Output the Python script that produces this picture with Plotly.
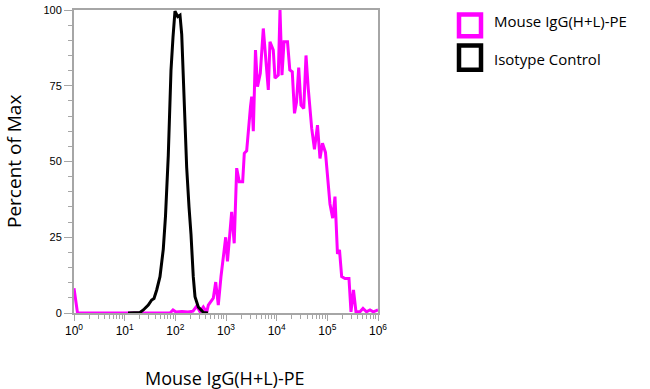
import plotly.graph_objects as go

# ---- data (x as log10 of fluorescence, y = percent of max)
black_log_x = [1.066, 1.303, 1.368, 1.466, 1.533, 1.579, 1.632, 1.697, 1.762, 1.806,
               1.861, 1.914, 1.954, 1.993, 2.047, 2.092, 2.126, 2.171, 2.224, 2.270,
               2.309, 2.354, 2.388, 2.453, 2.552, 2.645]
black_y = [0, 0.2, 1, 2.6, 4.3, 4.8, 7.6, 12, 21, 32,
           52, 80, 91, 99.6, 97.8, 98.3, 92, 72, 48, 35,
           26, 12, 5.4, 2, 0.2, 0]

magenta_log_x = [0.000, 0.069, 1.895, 1.954, 2.013, 2.131, 2.250, 2.349, 2.422, 2.487,
                 2.552, 2.619, 2.651, 2.749, 2.797, 2.848, 2.901, 2.970, 2.994, 3.029,
                 3.112, 3.162, 3.211, 3.262, 3.329, 3.361, 3.408, 3.483, 3.507, 3.539,
                 3.582, 3.622, 3.677, 3.736, 3.835, 3.868, 3.933, 3.967, 4.032, 4.066,
                 4.105, 4.145, 4.214, 4.259, 4.308, 4.352, 4.391, 4.435, 4.480, 4.535,
                 4.579, 4.624, 4.691, 4.746, 4.806, 4.855, 4.904, 4.963, 5.013, 5.052,
                 5.106, 5.151, 5.200, 5.240, 5.283, 5.348, 5.427, 5.467, 5.516, 5.565,
                 5.644, 5.704, 5.773, 5.842, 5.907, 5.974, 6.000]
magenta_y = [8.2, 0, 0, 1, 0.3, 0.5, 0.3, 0.6, 2.3, 0.4,
             2, 0.2, 2.6, 4.9, 10.2, 2.6, 12, 22, 25, 17,
             33.4, 23, 47.8, 43.3, 43.3, 52.7, 53.5, 68, 71.4, 60,
             86.8, 74.7, 79.1, 93.9, 73.6, 89.5, 86.8, 77.5, 78.5, 100,
             78.5, 89.5, 89.5, 80.2, 79.6, 65.9, 69.5, 81, 68.6, 67.5,
             85, 74, 61, 54, 62, 51, 56, 53, 44, 36,
             31.3, 38.4, 19.5, 20.8, 12, 11.4, 11.4, 0.4, 7.6, 0.4,
             0.4, 1.5, 0.4, 1, 0.4, 1, 1]

series_names = ["Mouse IgG(H+L)-PE", "Isotype Control"]
series_colors = ["#ff00ff", "#000000"]
x_title = "Mouse IgG(H+L)-PE"
y_title = "Percent of Max"
y_ticks = [0, 25, 50, 75, 100]
x_tick_exps = [0, 1, 2, 3, 4, 5, 6]

AX = "#a6a6a6"

fig = go.Figure()
fig.add_trace(go.Scatter(x=[10 ** v for v in magenta_log_x], y=magenta_y, mode="lines",
                         line=dict(color=series_colors[0], width=3), name=series_names[0],
                         showlegend=False))
fig.add_trace(go.Scatter(x=[10 ** v for v in black_log_x], y=black_y, mode="lines",
                         line=dict(color=series_colors[1], width=3), name=series_names[1],
                         showlegend=False))

fig.update_xaxes(type="log", range=[0, 6],
                 tickvals=[10 ** e for e in x_tick_exps],
                 ticktext=["10<sup>%d</sup>" % e for e in x_tick_exps],
                 showgrid=False, zeroline=False, showline=True, linecolor=AX, linewidth=2,
                 mirror=True, ticks="outside", ticklen=6, tickcolor=AX, tickwidth=1,
                 tickfont=dict(family="Liberation Sans, Arial", size=12, color="#000"),
                 minor=dict(ticks="outside", ticklen=4, tickcolor=AX, tickwidth=1,
                            dtick="D1", showgrid=False), automargin=False)
fig.update_yaxes(range=[0, 100], tickvals=y_ticks,
                 showgrid=False, zeroline=False, showline=True, linecolor=AX, linewidth=2,
                 mirror=True, ticks="outside", ticklen=8, tickcolor=AX, tickwidth=1,
                 tickfont=dict(family="Liberation Sans, Arial", size=11, color="#000"),
                 minor=dict(ticks="outside", ticklen=4, tickcolor=AX, tickwidth=1,
                            dtick=5, showgrid=False), automargin=False)

L, R, T, B = 74, 272, 10, 76
W, H = 650, 389
pw, ph = W - L - R, H - T - B


def px(xp):
    return (xp - L) / pw


def py(yp):
    return (H - B - yp) / ph


annotations = [
    dict(text=y_title, x=px(14), y=py(162), xref="paper", yref="paper", textangle=-90,
         showarrow=False, xanchor="center", yanchor="middle",
         font=dict(family="Open Sans", size=19, color="#000")),
    dict(text=x_title, x=px(225), y=py(378), xref="paper", yref="paper",
         showarrow=False, xanchor="center", yanchor="middle",
         font=dict(family="Open Sans", size=18, color="#000")),
]
shapes = []
legend_y = [(14.5, 36.3), (45.5, 69.7)]
legend_text_y = [21, 59]
for name, col, (y0, y1), ty in zip(series_names, series_colors, legend_y, legend_text_y):
    shapes.append(dict(type="rect", xref="paper", yref="paper", x0=px(459), x1=px(481),
                       y0=py(y1), y1=py(y0), line=dict(color=col, width=4.5),
                       fillcolor="rgba(0,0,0,0)"))
    annotations.append(dict(text=name, x=px(492), y=py(ty), xref="paper", yref="paper",
                            showarrow=False, xanchor="left", yanchor="middle",
                            font=dict(family="Open Sans", size=15, color="#000")))

fig.update_layout(width=W, height=H, margin=dict(l=L, r=R, t=T, b=B),
                  plot_bgcolor="white", paper_bgcolor="white",
                  annotations=annotations, shapes=shapes, showlegend=False)

fig.write_html("out.html", config={"displayModeBar": False},
               post_script="document.body.style.margin='0';document.body.style.padding='0';")
